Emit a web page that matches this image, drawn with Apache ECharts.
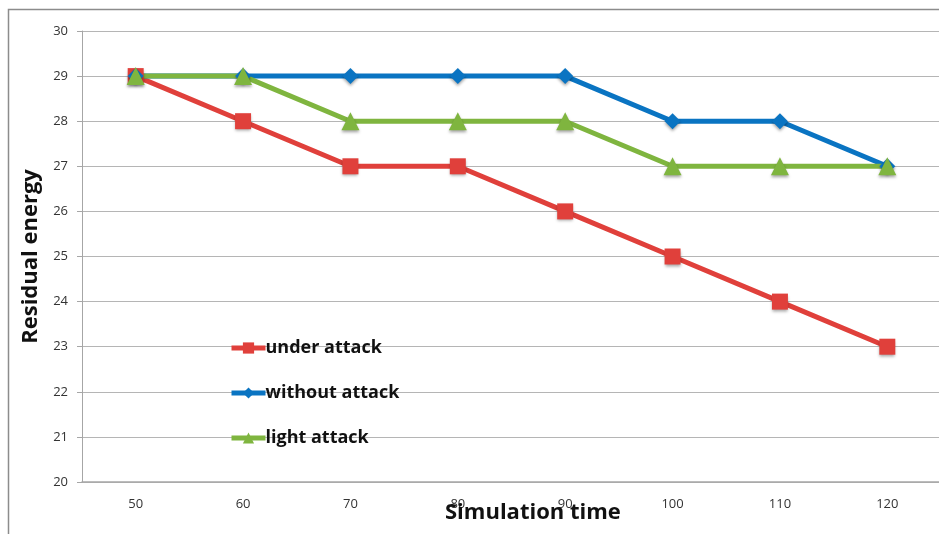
<!DOCTYPE html>
<html>
<head>
<meta charset="utf-8">
<script src="https://cdn.jsdelivr.net/npm/echarts@6/dist/echarts.min.js"></script>
<style>
  html, body { margin: 0; padding: 0; background: #fff; }
  #chart { width: 939px; height: 534px; }
</style>
</head>
<body>
<div id="chart"></div>
<script>
// Simulation time categories and residual energy per scenario
const simulationTimes = ['50', '60', '70', '80', '90', '100', '110', '120'];
const underAttack   = [29, 28, 27, 27, 26, 25, 24, 23];
const withoutAttack = [29, 29, 29, 29, 29, 28, 28, 27];
const lightAttack   = [29, 29, 28, 28, 28, 27, 27, 27];
const energyTicks = { min: 20, max: 30, interval: 1 };

const FONT = '"Open Sans", "Liberation Sans", sans-serif';

function lineSeries(name, data, color, symbol, size) {
  return {
    name: name,
    type: 'line',
    data: data,
    symbol: symbol,
    symbolSize: size,
    lineStyle: { color: color, width: 5 },
    itemStyle: {
      color: color,
      shadowColor: 'rgba(0,0,0,0.35)',
      shadowBlur: 3,
      shadowOffsetY: 2
    },
    emphasis: { disabled: true },
    animation: false
  };
}

const chart = echarts.init(document.getElementById('chart'), null, { renderer: 'canvas' });
chart.setOption({
  backgroundColor: '#ffffff',
  graphic: [{
    type: 'rect',
    shape: { x: 8.5, y: 9.5, width: 960, height: 560 },
    style: { fill: 'none', stroke: '#8c8c8c', lineWidth: 1.5 },
    z: -1
  }, {
    type: 'text',
    left: 445,
    top: 502,
    style: { text: 'Simulation time', font: 'bold 22px ' + FONT, fill: '#111' },
    z: 10
  }],
  grid: { left: 82, top: 31, width: 859, height: 451, outerBoundsMode: 'none', containLabel: false },
  legend: {
    orient: 'vertical',
    left: 224,
    top: 334,
    itemWidth: 34,
    itemHeight: 14,
    itemGap: 27,
    lineStyle: { width: 5 },
    textStyle: { fontFamily: FONT, fontSize: 18, fontWeight: 'bold', color: '#111', padding: [0, 0, 0, -5] },
    data: ['under attack', 'without attack', 'light attack']
  },
  xAxis: {
    type: 'category',
    data: simulationTimes,
    boundaryGap: true,
    axisLine: { lineStyle: { color: '#a6a6a6', width: 1.5 } },
    axisTick: { show: false },
    axisLabel: { fontFamily: FONT, fontSize: 13, color: '#333', margin: 16 },
    splitLine: { show: false }
  },
  yAxis: {
    type: 'value',
    min: energyTicks.min,
    max: energyTicks.max,
    interval: energyTicks.interval,
    name: 'Residual energy',
    nameLocation: 'middle',
    nameGap: 37,
    nameTextStyle: { fontFamily: FONT, fontSize: 22, fontWeight: 'bold', color: '#111' },
    axisLine: { show: true, lineStyle: { color: '#a6a6a6', width: 1 } },
    axisTick: { show: true, length: 5, lineStyle: { color: '#a6a6a6' } },
    axisLabel: { fontFamily: FONT, fontSize: 13, color: '#333', margin: 14 },
    splitLine: { show: true, lineStyle: { color: '#b5b5b5', width: 1 } }
  },
  series: [
    lineSeries('under attack', underAttack, '#e0403b', 'rect', 16),
    lineSeries('without attack', withoutAttack, '#0a74c2', 'diamond', 16),
    lineSeries('light attack', lightAttack, '#7fb53f', 'triangle', 18)
  ]
});
</script>
</body>
</html>
